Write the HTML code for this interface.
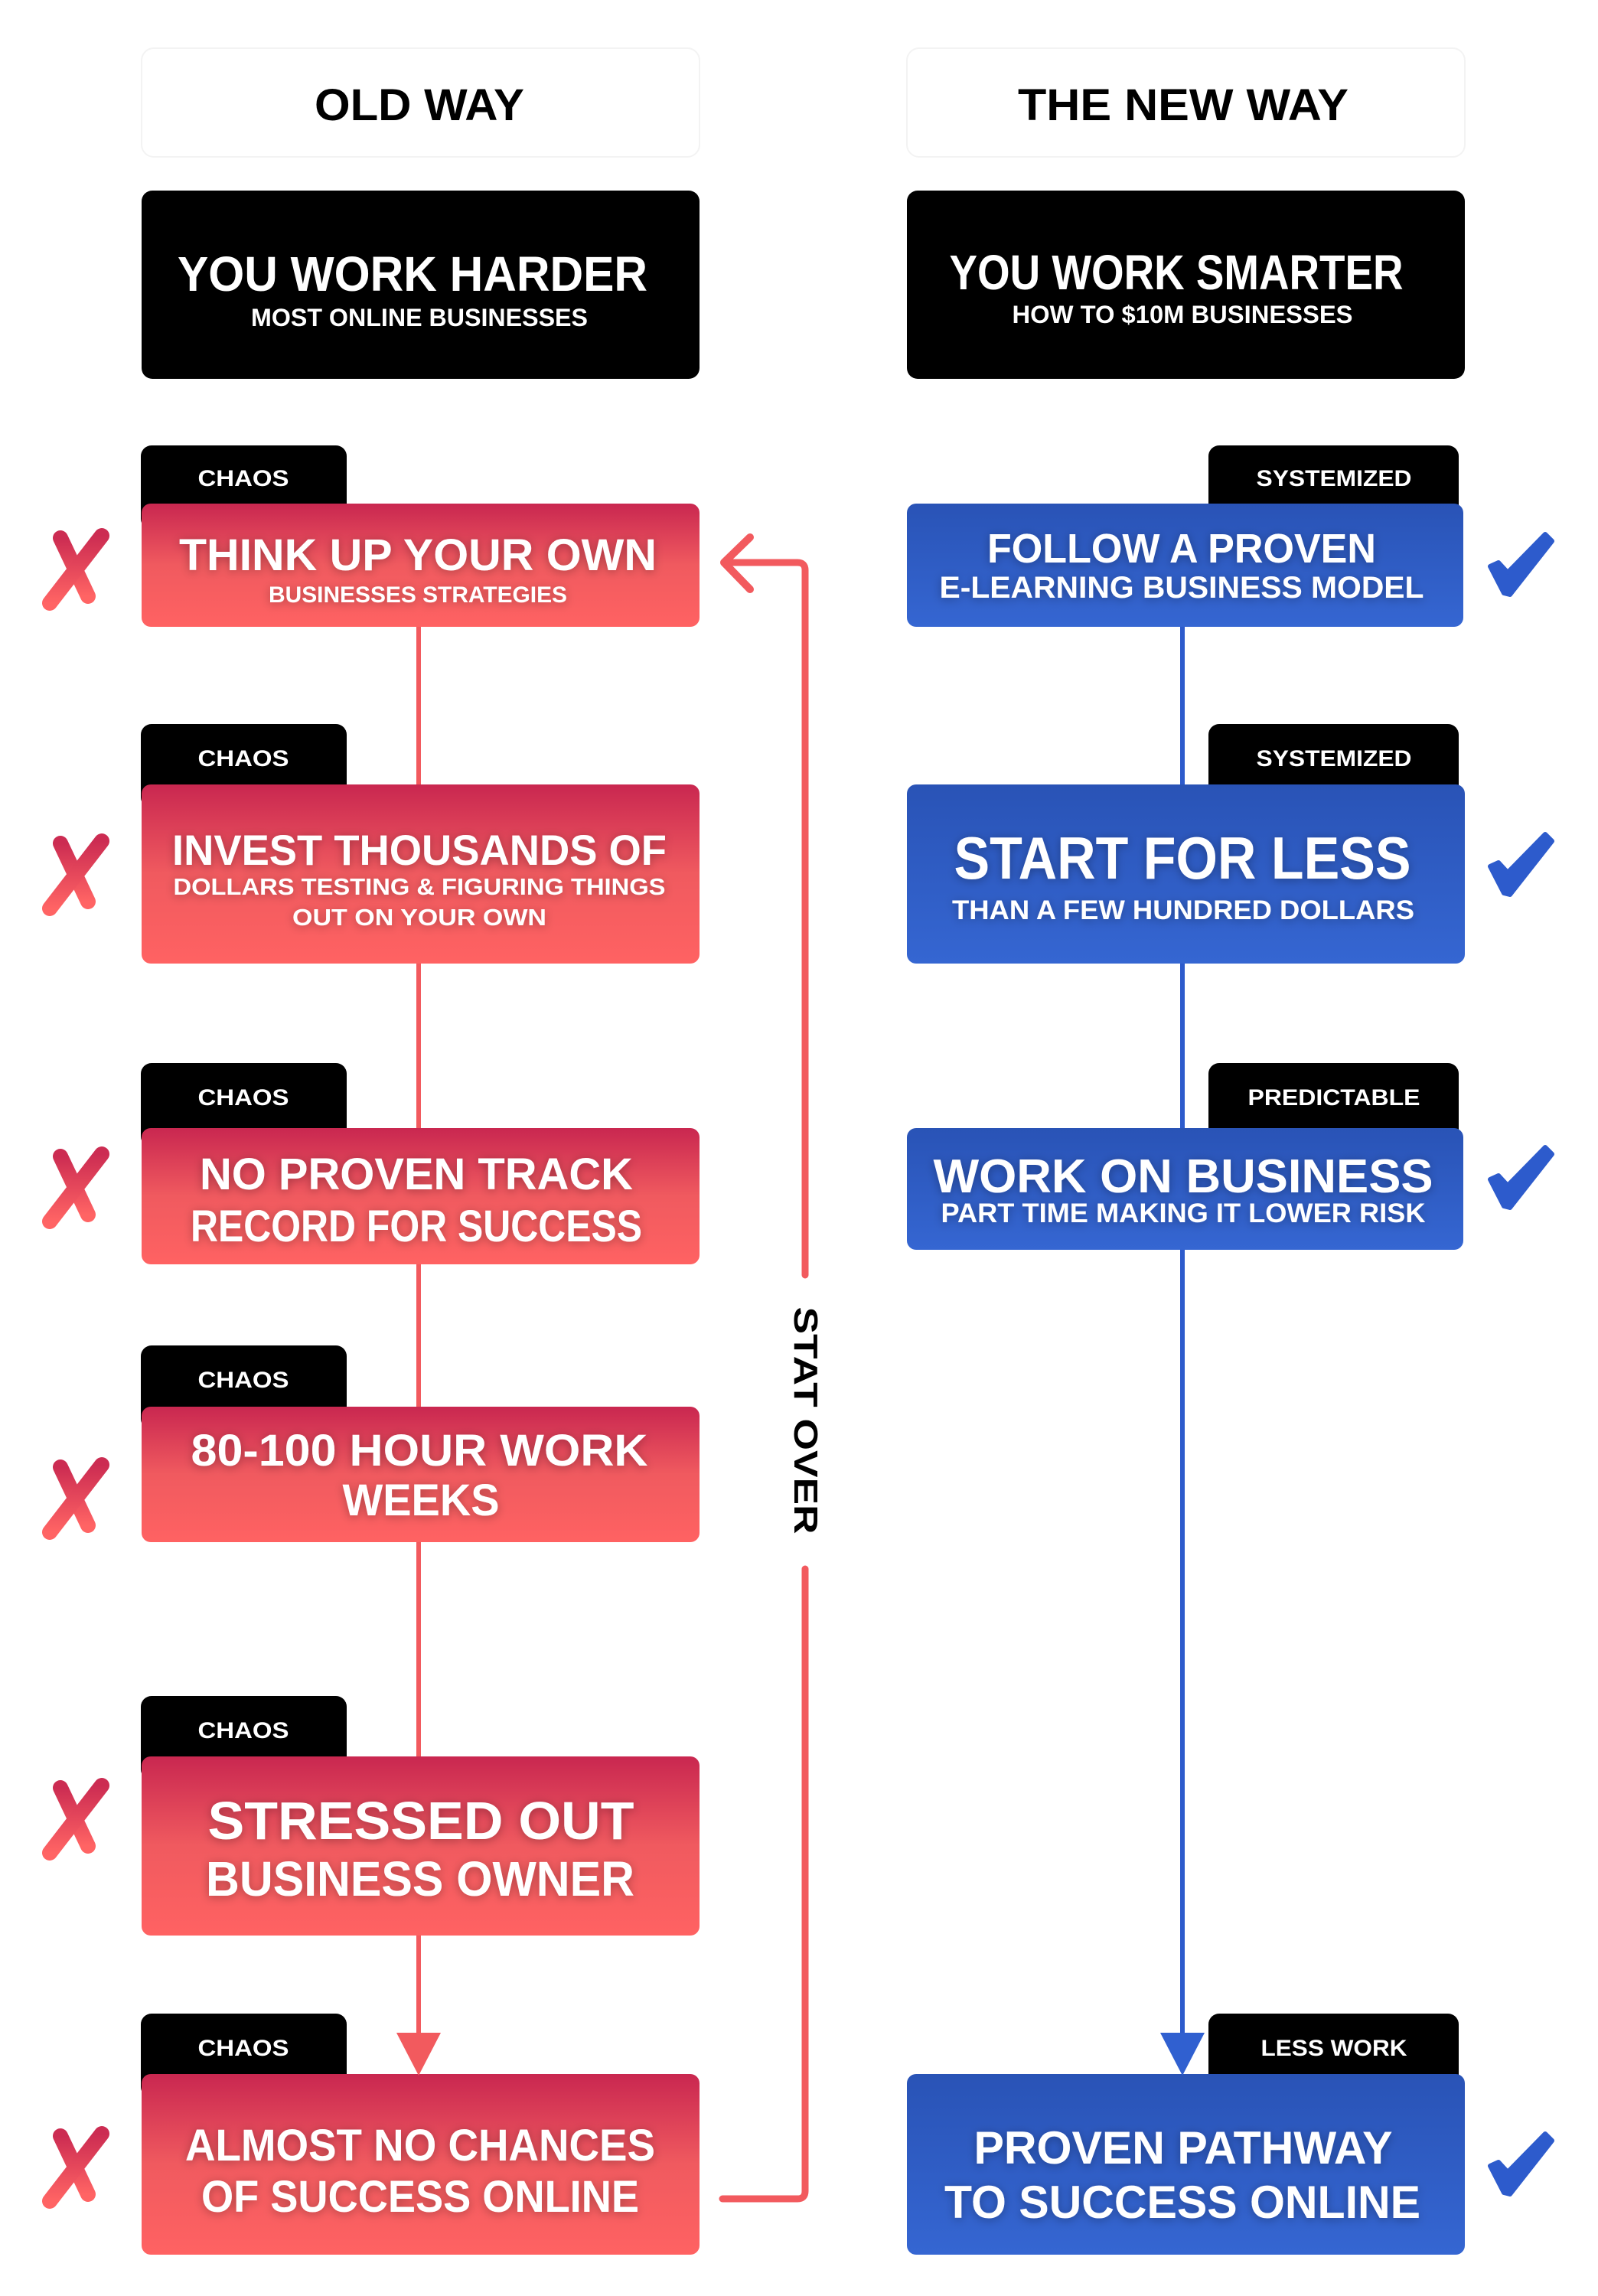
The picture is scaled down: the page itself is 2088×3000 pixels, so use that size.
<!DOCTYPE html>
<html><head><meta charset="utf-8"><style>
html,body{margin:0;padding:0;background:#fff;}
svg{display:block;}
text{font-family:"Liberation Sans",sans-serif;font-weight:bold;fill:#fff;}
.w{filter:url(#sh);}
</style></head><body>
<svg width="2088" height="3000" viewBox="0 0 2088 3000" xmlns="http://www.w3.org/2000/svg">
<defs>
<linearGradient id="rg" x1="0" y1="0" x2="0" y2="1">
<stop offset="0" stop-color="#c92750"/><stop offset="0.5" stop-color="#f05a5f"/><stop offset="1" stop-color="#ff6262"/>
</linearGradient>
<linearGradient id="bg" x1="0" y1="0" x2="0" y2="1">
<stop offset="0" stop-color="#2953b6"/><stop offset="1" stop-color="#3566d2"/>
</linearGradient>
<linearGradient id="xg" x1="0" y1="0" x2="0" y2="1">
<stop offset="0" stop-color="#cc2c52"/><stop offset="1" stop-color="#ff6464"/>
</linearGradient>
<filter id="sh" x="-10%" y="-40%" width="120%" height="180%">
<feDropShadow dx="0" dy="2" stdDeviation="6" flood-color="#000" flood-opacity="0.3"/>
</filter>
<g id="xm"><line x1="77" y1="-40" x2="113" y2="36" stroke="url(#xg)" stroke-width="20" stroke-linecap="round"/><line x1="131" y1="-43" x2="63" y2="45" stroke="url(#xg)" stroke-width="20" stroke-linecap="round"/></g>
<polygon id="ck" points="1947,30 1958,25 1970,38 2019,-12 2028,-3 1973,67 1965,65" fill="#2d5bcc" stroke="#2d5bcc" stroke-width="6" stroke-linejoin="round"/>
</defs>

<rect x="185" y="63" width="729" height="142" rx="16" fill="#fff" stroke="#f3f3f3" stroke-width="2"/>
<rect x="1185" y="63" width="729" height="142" rx="16" fill="#fff" stroke="#f3f3f3" stroke-width="2"/>
<text x="548" y="157" font-size="58" style="fill:#000" text-anchor="middle" textLength="274" lengthAdjust="spacingAndGlyphs">OLD WAY</text>
<text x="1546" y="157" font-size="58" style="fill:#000" text-anchor="middle" textLength="432" lengthAdjust="spacingAndGlyphs">THE NEW WAY</text>

<rect x="185" y="249" width="729" height="246" rx="14" fill="#000"/>
<rect x="1185" y="249" width="729" height="246" rx="14" fill="#000"/>
<text x="539" y="380" font-size="64" text-anchor="middle" textLength="614" lengthAdjust="spacingAndGlyphs">YOU WORK HARDER</text>
<text x="548" y="426" font-size="32" text-anchor="middle" textLength="440" lengthAdjust="spacingAndGlyphs">MOST ONLINE BUSINESSES</text>
<text x="1537" y="378" font-size="64" text-anchor="middle" textLength="593" lengthAdjust="spacingAndGlyphs">YOU WORK SMARTER</text>
<text x="1545" y="422" font-size="32" text-anchor="middle" textLength="445" lengthAdjust="spacingAndGlyphs">HOW TO $10M BUSINESSES</text>

<line x1="547" y1="800" x2="547" y2="2660" stroke="#f25a5e" stroke-width="6"/>
<line x1="1545" y1="800" x2="1545" y2="2660" stroke="#2d5bcc" stroke-width="6"/>

<path d="M950,735 H1042 Q1052,735 1052,745 V1666" fill="none" stroke="#f25a5e" stroke-width="9" stroke-linecap="round"/>
<path d="M980,702 L946,735 L980,770" fill="none" stroke="#f25a5e" stroke-width="10" stroke-linecap="round" stroke-linejoin="round"/>
<path d="M1052,2050 V2863 Q1052,2873 1042,2873 H944" fill="none" stroke="#f25a5e" stroke-width="9" stroke-linecap="round"/>
<text transform="translate(1038,1856) rotate(90)" font-size="44" style="fill:#000" text-anchor="middle" textLength="297" lengthAdjust="spacingAndGlyphs">STAT OVER</text>

<g>
<rect x="184" y="582" width="269" height="110" rx="14" fill="#000"/>
<text x="318" y="635" font-size="30" text-anchor="middle" textLength="119" lengthAdjust="spacingAndGlyphs">CHAOS</text>
<rect x="185" y="658" width="729" height="161" rx="12" fill="url(#rg)"/>
<text class="w" x="546" y="745" font-size="58" text-anchor="middle" textLength="624" lengthAdjust="spacingAndGlyphs">THINK UP YOUR OWN</text>
<text class="w" x="546" y="787" font-size="30" text-anchor="middle" textLength="390" lengthAdjust="spacingAndGlyphs">BUSINESSES STRATEGIES</text>

<rect x="184" y="946" width="269" height="110" rx="14" fill="#000"/>
<text x="318" y="1001" font-size="30" text-anchor="middle" textLength="119" lengthAdjust="spacingAndGlyphs">CHAOS</text>
<rect x="185" y="1025" width="729" height="234" rx="12" fill="url(#rg)"/>
<text class="w" x="548" y="1130" font-size="56" text-anchor="middle" textLength="646" lengthAdjust="spacingAndGlyphs">INVEST THOUSANDS OF</text>
<text class="w" x="548" y="1169" font-size="31" text-anchor="middle" textLength="643" lengthAdjust="spacingAndGlyphs">DOLLARS TESTING &amp; FIGURING THINGS</text>
<text class="w" x="548" y="1209" font-size="31" text-anchor="middle" textLength="332" lengthAdjust="spacingAndGlyphs">OUT ON YOUR OWN</text>

<rect x="184" y="1389" width="269" height="110" rx="14" fill="#000"/>
<text x="318" y="1444" font-size="30" text-anchor="middle" textLength="119" lengthAdjust="spacingAndGlyphs">CHAOS</text>
<rect x="185" y="1474" width="729" height="178" rx="12" fill="url(#rg)"/>
<text class="w" x="544" y="1554" font-size="58" text-anchor="middle" textLength="566" lengthAdjust="spacingAndGlyphs">NO PROVEN TRACK</text>
<text class="w" x="544" y="1622" font-size="58" text-anchor="middle" textLength="590" lengthAdjust="spacingAndGlyphs">RECORD FOR SUCCESS</text>

<rect x="184" y="1758" width="269" height="110" rx="14" fill="#000"/>
<text x="318" y="1813" font-size="30" text-anchor="middle" textLength="119" lengthAdjust="spacingAndGlyphs">CHAOS</text>
<rect x="185" y="1838" width="729" height="177" rx="12" fill="url(#rg)"/>
<text class="w" x="548" y="1915" font-size="58" text-anchor="middle" textLength="597" lengthAdjust="spacingAndGlyphs">80-100 HOUR WORK</text>
<text class="w" x="550" y="1980" font-size="58" text-anchor="middle" textLength="205" lengthAdjust="spacingAndGlyphs">WEEKS</text>

<rect x="184" y="2216" width="269" height="110" rx="14" fill="#000"/>
<text x="318" y="2271" font-size="30" text-anchor="middle" textLength="119" lengthAdjust="spacingAndGlyphs">CHAOS</text>
<rect x="185" y="2295" width="729" height="234" rx="12" fill="url(#rg)"/>
<text class="w" x="550" y="2403" font-size="70" text-anchor="middle" textLength="557" lengthAdjust="spacingAndGlyphs">STRESSED OUT</text>
<text class="w" x="549" y="2477" font-size="64" text-anchor="middle" textLength="560" lengthAdjust="spacingAndGlyphs">BUSINESS OWNER</text>

<rect x="184" y="2631" width="269" height="110" rx="14" fill="#000"/>
<text x="318" y="2686" font-size="30" text-anchor="middle" textLength="119" lengthAdjust="spacingAndGlyphs">CHAOS</text>
<rect x="185" y="2710" width="729" height="236" rx="12" fill="url(#rg)"/>
<polygon points="518,2656 576,2656 547,2712" fill="#f25a5e"/>
<text class="w" x="549" y="2823" font-size="58" text-anchor="middle" textLength="614" lengthAdjust="spacingAndGlyphs">ALMOST NO CHANCES</text>
<text class="w" x="549" y="2890" font-size="58" text-anchor="middle" textLength="572" lengthAdjust="spacingAndGlyphs">OF SUCCESS ONLINE</text>
</g>

<g>
<rect x="1579" y="582" width="327" height="110" rx="14" fill="#000"/>
<text x="1743" y="635" font-size="30" text-anchor="middle" textLength="203" lengthAdjust="spacingAndGlyphs">SYSTEMIZED</text>
<rect x="1185" y="658" width="727" height="161" rx="12" fill="url(#bg)"/>
<text class="w" x="1544" y="735" font-size="54" text-anchor="middle" textLength="508" lengthAdjust="spacingAndGlyphs">FOLLOW A PROVEN</text>
<text class="w" x="1544" y="781" font-size="40" text-anchor="middle" textLength="633" lengthAdjust="spacingAndGlyphs">E-LEARNING  BUSINESS MODEL</text>

<rect x="1579" y="946" width="327" height="110" rx="14" fill="#000"/>
<text x="1743" y="1001" font-size="30" text-anchor="middle" textLength="203" lengthAdjust="spacingAndGlyphs">SYSTEMIZED</text>
<rect x="1185" y="1025" width="729" height="234" rx="12" fill="url(#bg)"/>
<text class="w" x="1545" y="1148" font-size="78" text-anchor="middle" textLength="597" lengthAdjust="spacingAndGlyphs">START FOR LESS</text>
<text class="w" x="1546" y="1201" font-size="35" text-anchor="middle" textLength="604" lengthAdjust="spacingAndGlyphs">THAN A FEW HUNDRED DOLLARS</text>

<rect x="1579" y="1389" width="327" height="110" rx="14" fill="#000"/>
<text x="1743" y="1444" font-size="30" text-anchor="middle" textLength="225" lengthAdjust="spacingAndGlyphs">PREDICTABLE</text>
<rect x="1185" y="1474" width="727" height="159" rx="12" fill="url(#bg)"/>
<text class="w" x="1546" y="1558" font-size="62" text-anchor="middle" textLength="653" lengthAdjust="spacingAndGlyphs">WORK ON BUSINESS</text>
<text class="w" x="1546" y="1597" font-size="35" text-anchor="middle" textLength="633" lengthAdjust="spacingAndGlyphs">PART TIME MAKING IT LOWER RISK</text>

<rect x="1579" y="2631" width="327" height="110" rx="14" fill="#000"/>
<text x="1743" y="2686" font-size="30" text-anchor="middle" textLength="191" lengthAdjust="spacingAndGlyphs">LESS WORK</text>
<rect x="1185" y="2710" width="729" height="236" rx="12" fill="url(#bg)"/>
<polygon points="1516,2656 1574,2656 1545,2712" fill="#3060d0"/>
<text class="w" x="1546" y="2827" font-size="60" text-anchor="middle" textLength="547" lengthAdjust="spacingAndGlyphs">PROVEN PATHWAY</text>
<text class="w" x="1545" y="2898" font-size="60" text-anchor="middle" textLength="622" lengthAdjust="spacingAndGlyphs">TO SUCCESS ONLINE</text>
</g>

<use href="#xm" transform="translate(2,743)"/>
<use href="#xm" transform="translate(2,1142)"/>
<use href="#xm" transform="translate(2,1551)"/>
<use href="#xm" transform="translate(2,1957)"/>
<use href="#xm" transform="translate(2,2376)"/>
<use href="#xm" transform="translate(2,2831)"/>
<use href="#ck" transform="translate(0,710)"/>
<use href="#ck" transform="translate(0,1102)"/>
<use href="#ck" transform="translate(0,1511)"/>
<use href="#ck" transform="translate(0,2800)"/>
</svg>
</body></html>
